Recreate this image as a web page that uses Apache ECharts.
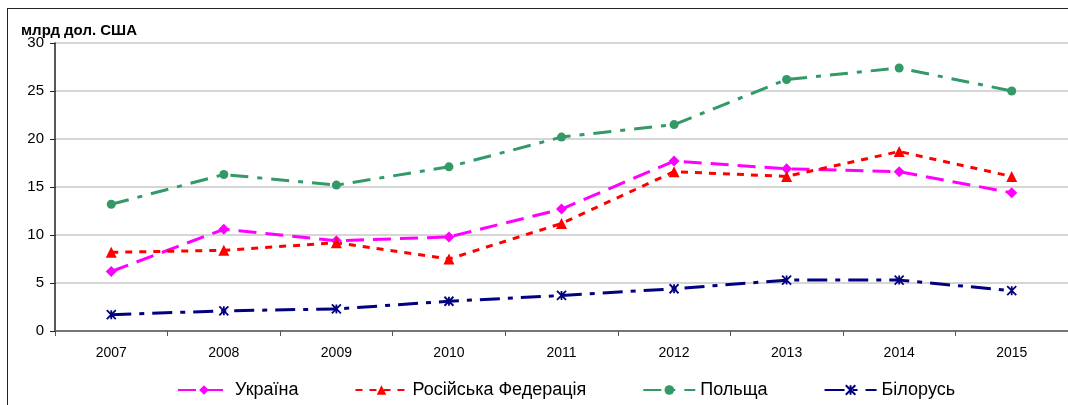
<!DOCTYPE html>
<html>
<head>
<meta charset="utf-8">
<script src="https://cdn.jsdelivr.net/npm/echarts@6/dist/echarts.min.js"></script>
<style>
  html, body { margin: 0; padding: 0; background: #fff; }
  #frame {
    position: absolute; left: 7px; top: 8px; width: 1070px; height: 410px;
    border-left: 1.5px solid #222; border-top: 1.5px solid #222;
  }
  #main { position: absolute; left: 0; top: 0; width: 1068px; height: 405px; }
</style>
</head>
<body>
<div id="frame"></div>
<div id="main"></div>
<script>
// роки та значення, млрд дол. США
var years = ['2007', '2008', '2009', '2010', '2011', '2012', '2013', '2014', '2015']
var ukraine = [6.2, 10.6, 9.4, 9.8, 12.7, 17.7, 16.9, 16.6, 14.4]
var russia = [8.2, 8.4, 9.2, 7.5, 11.2, 16.6, 16.1, 18.7, 16.1]
var poland = [13.2, 16.3, 15.2, 17.1, 20.2, 21.5, 26.2, 27.4, 25.0]
var belarus = [1.7, 2.1, 2.3, 3.1, 3.7, 4.4, 5.3, 5.3, 4.2]

var font = 'Liberation Sans, Arial, sans-serif'

function line(name, data, color, dash, symbol, size, border) {
  return {
    name: name,
    type: 'line',
    data: data,
    symbol: symbol,
    symbolSize: size,
    showAllSymbol: true,
    itemStyle: border ? { color: color, borderColor: color, borderWidth: border } : { color: color },
    lineStyle: { color: color, width: 3, type: dash },
    emphasis: { disabled: true },
    animation: false
  }
}

var myChart = echarts.init(document.getElementById('main'))
myChart.setOption({
  backgroundColor: 'transparent',
  title: {
    text: 'млрд дол. США',
    left: 16, top: 18,
    textStyle: { fontFamily: font, fontSize: 15, fontWeight: 'bold', color: '#000' }
  },
  grid: { left: 55, right: 0, top: 43, bottom: 74 },
  xAxis: {
    type: 'category',
    data: years,
    boundaryGap: true,
    axisLine: { lineStyle: { color: '#555', width: 1.5 } },
    axisTick: { show: true, length: 5, lineStyle: { color: '#555' } },
    axisLabel: { fontFamily: font, fontSize: 14, color: '#000', margin: 15 }
  },
  yAxis: {
    type: 'value',
    min: 0, max: 30, interval: 5,
    axisLine: { show: true, lineStyle: { color: '#222', width: 1.5 } },
    axisTick: { show: true, length: 5, lineStyle: { color: '#222' } },
    axisLabel: { fontFamily: font, fontSize: 15, color: '#000', margin: 11 },
    splitLine: { lineStyle: { color: '#c8c8c8', width: 1.5 } }
  },
  legend: {
    top: 376, left: 172,
    itemWidth: 52, itemHeight: 12, itemGap: 56,
    textStyle: { fontFamily: font, fontSize: 18, color: '#000' },
    data: ['Україна', 'Російська Федерація', 'Польща', 'Білорусь']
  },
  series: [
    line('Україна', ukraine, '#ff00ff', [18, 9], 'diamond', 11),
    line('Російська Федерація', russia, '#ff0000', [7, 7], 'triangle', 11),
    line('Польща', poland, '#339966', [18, 9, 5, 9], 'circle', 9),
    line('Білорусь', belarus, '#000080', [20, 8, 5, 8], 'path://M0,0L10,10M10,0L0,10M5,0L5,10', 9, 1.8)
  ]
})
</script>
</body>
</html>
